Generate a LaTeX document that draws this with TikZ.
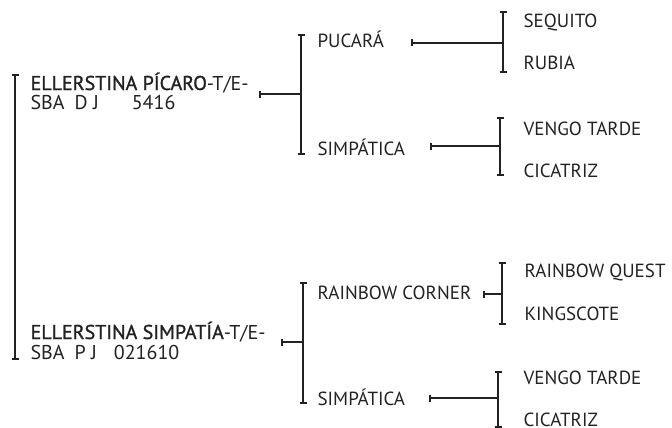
\documentclass[tikz,border=0pt]{standalone}
\usepackage{fontspec}
\setmainfont{PT Sans}
\newfontfamily\namefont{PT Sans}[FakeBold=1.2]
\definecolor{ink}{HTML}{222222}
\begin{document}
\begin{tikzpicture}[x=1pt,y=-1pt, line width=1.2pt, draw=ink,
  lbl/.style={anchor=base west, inner sep=0pt, text=ink, font=\fontsize{19}{20}\selectfont},
  horse/.style={lbl, font=\fontsize{20}{21}\selectfont},
  ]
\useasboundingbox (0,0) rectangle (672,428);
\newcommand\mybrk[3]{%
  \draw (#1,#2) -- (#1,#3);
  \draw (#1-3.5,#2) -- (#1+3.5,#2);
  \draw (#1-3.5,#3) -- (#1+3.5,#3);}
\newcommand\mytick[2]{\draw (#1,#2-3.5) -- (#1,#2+3.5);}

% root bracket
\mybrk{15}{75}{359}

% generation 1
\node[horse] (e1) at (30,90) {{\namefont ELLERSTINA PÍCARO}-T/E-};
\node[horse] (e1b) at (30,110) {SBA\hspace{10pt}D J\hspace{33pt}5416};
\node[horse] (e2) at (30,339) {{\namefont ELLERSTINA SIMPATÍA}-T/E-};
\node[horse] (e2b) at (30,359) {SBA\hspace{10pt}P J\hspace{17pt}021610};

% connectors gen1 -> gen2
\coordinate (c1s) at (260,94); \coordinate (b1m) at (301,94);
\mytick{260}{94}
\draw (c1s) -- (b1m);
\mybrk{301}{35}{154}
\coordinate (c2s) at (282,342); \coordinate (b2m) at (303,342);
\mytick{282}{342}
\draw (c2s) -- (b2m);
\mybrk{303}{283}{403}

% generation 2
\node[lbl] (p1) at (317,48) {PUCARÁ};
\node[lbl] (p2) at (317,155) {SIMPÁTICA};
\node[lbl] (p3) at (317,299) {RAINBOW CORNER};
\node[lbl] (p4) at (317,405) {SIMPÁTICA};

% connectors gen2 -> gen3
\coordinate (d1s) at (412,43); \coordinate (d1e) at (503,43);
\mytick{412}{43}
\draw (d1s) -- (d1e);
\mybrk{503}{12}{72}
\coordinate (d2s) at (431,146); \coordinate (d2e) at (500,146);
\mytick{431}{146}
\draw (d2s) -- (d2e);
\mybrk{500}{118}{175}
\coordinate (d3s) at (484,294); \coordinate (d3e) at (502,294);
\mytick{484}{294}
\draw (d3s) -- (d3e);
\mybrk{502}{263}{324}
\coordinate (d4s) at (430,398); \coordinate (d4e) at (498,398);
\mytick{430}{398}
\draw (d4s) -- (d4e);
\mybrk{498}{372}{427}

% generation 3
\node[lbl] (g1) at (523,28) {SEQUITO};
\node[lbl] (g2) at (523,70) {RUBIA};
\node[lbl] (g3) at (523,135) {VENGO TARDE};
\node[lbl] (g4) at (523,177) {CICATRIZ};
\node[lbl] (g5) at (524,277) {RAINBOW QUEST};
\node[lbl] (g6) at (524,320) {KINGSCOTE};
\node[lbl] (g7) at (523,384) {VENGO TARDE};
\node[lbl] (g8) at (523,426) {CICATRIZ};
\end{tikzpicture}
\end{document}
